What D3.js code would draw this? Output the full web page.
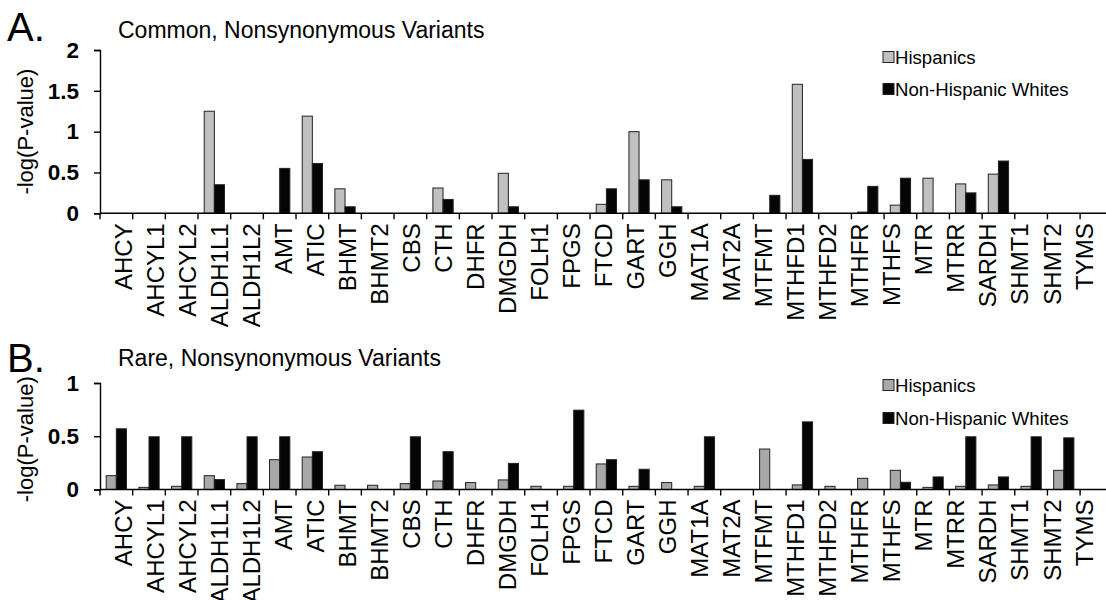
<!DOCTYPE html>
<html>
<head>
<meta charset="utf-8">
<script src="https://cdn.jsdelivr.net/npm/d3@7"></script>
<style>
  html, body { margin: 0; padding: 0; background: #fff; }
  svg { display: block; font-family: "Liberation Sans", Arial, sans-serif; }
</style>
</head>
<body>
<svg id="chart" width="1106" height="600"></svg>
<script>
const genes = ["AHCY","AHCYL1","AHCYL2","ALDH1L1","ALDH1L2","AMT","ATIC","BHMT","BHMT2","CBS","CTH","DHFR","DMGDH","FOLH1","FPGS","FTCD","GART","GGH","MAT1A","MAT2A","MTFMT","MTHFD1","MTHFD2","MTHFR","MTHFS","MTR","MTRR","SARDH","SHMT1","SHMT2","TYMS"];
const seriesNames = ["Hispanics", "Non-Hispanic Whites"];

// Panel A: common, nonsynonymous variants
const commonHispanic = [0,0,0,1.25,0,0,1.19,0.30,0,0,0.31,0,0.49,0,0,0.11,1.00,0.41,0,0,0,1.58,0,0.015,0.10,0.43,0.36,0.48,0,0,0];
const commonWhite    = [0,0,0,0.35,0,0.55,0.61,0.08,0,0,0.17,0,0.08,0,0,0.30,0.41,0.08,0,0,0.22,0.66,0,0.33,0.43,0,0.25,0.64,0,0,0];
const commonTicks = [0, 0.5, 1, 1.5, 2];

// Panel B: rare, nonsynonymous variants
const rareHispanic = [0.13,0.02,0.03,0.13,0.055,0.28,0.305,0.04,0.04,0.055,0.08,0.065,0.09,0.03,0.03,0.24,0.03,0.065,0.03,0,0.38,0.043,0.03,0.105,0.18,0.02,0.03,0.043,0.03,0.18,0];
const rareWhite    = [0.57,0.495,0.495,0.093,0.495,0.495,0.355,0,0,0.495,0.355,0,0.245,0,0.745,0.28,0.19,0,0.495,0,0,0.635,0,0,0.068,0.118,0.495,0.118,0.495,0.485,0];
const rareTicks = [0, 0.5, 1];

const svg = d3.select("#chart");
svg.append("rect").attr("width", 1106).attr("height", 600).attr("fill", "#fff");

const x = d3.scaleBand().domain(genes).range([100, 100 + 31 * 32.67]).padding(0);
const xSub = d3.scaleBand().domain(seriesNames).range([6.2, x.bandwidth() - 6.2]).padding(0);
// category labels sit on a slightly tighter pitch than the bands in the original
const xLab = d3.scaleBand().domain(genes).range([107, 107 + 31 * 32.03]).padding(0);

function panel(cfg) {
  const g = svg.append("g");
  const y = d3.scaleLinear().domain([0, cfg.ymax]).range([cfg.y0, cfg.y1]);

  // bars
  const data = [];
  genes.forEach((gname, i) => {
    data.push({ gene: gname, s: seriesNames[0], v: cfg.h[i] });
    data.push({ gene: gname, s: seriesNames[1], v: cfg.w[i] });
  });
  g.selectAll("rect.bar").data(data.filter(d => d.v > 0)).join("rect")
    .attr("class", "bar")
    .attr("x", d => x(d.gene) + xSub(d.s))
    .attr("width", xSub.bandwidth())
    .attr("y", d => y(d.v))
    .attr("height", d => y(0) - y(d.v))
    .attr("fill", d => d.s === seriesNames[0] ? cfg.hColor : "#050505")
    .attr("stroke", "#222")
    .attr("stroke-width", 1);

  // y axis
  const yAxis = d3.axisLeft(y).tickValues(cfg.ticks).tickSize(6).tickPadding(15)
    .tickFormat(d => d3.format("")(d));
  const ya = g.append("g").attr("transform", "translate(100,0)").call(yAxis);
  ya.select(".domain").attr("stroke", "#000").attr("stroke-width", 1.4);
  ya.selectAll(".tick line").attr("stroke", "#000").attr("stroke-width", 1.4);
  ya.selectAll(".tick text").attr("font-size", 22.5).attr("font-weight", "bold")
    .attr("fill", "#000").attr("font-family", "Liberation Sans, Arial, sans-serif");

  // x axis
  const xa = g.append("g").attr("transform", `translate(0,${cfg.y0})`);
  xa.append("line").attr("x1", 100).attr("x2", 1106).attr("y1", 0).attr("y2", 0)
    .attr("stroke", "#000").attr("stroke-width", 1.4);
  const bounds = genes.map(gname => x(gname));
  xa.selectAll("line.tk").data(bounds).join("line").attr("class", "tk")
    .attr("x1", d => d).attr("x2", d => d).attr("y1", 0).attr("y2", 6)
    .attr("stroke", "#000").attr("stroke-width", 1.4);
  xa.selectAll("text.cat").data(genes).join("text").attr("class", "cat")
    .attr("transform", d => `translate(${xLab(d) + xLab.bandwidth() / 2},10) rotate(-90)`)
    .attr("text-anchor", "end")
    .attr("dy", "0.36em")
    .attr("font-size", 24)
    .attr("fill", "#000")
    .text(d => d);

  // y title
  g.append("text")
    .attr("transform", `translate(25,${(cfg.y0 + cfg.y1) / 2 + cfg.titleShift}) rotate(-90)`)
    .attr("text-anchor", "middle").attr("dy", "0.36em")
    .attr("font-size", 22).attr("fill", "#000")
    .text("-log(P-value)");

  // panel letter and title
  g.append("text").attr("x", 7).attr("y", cfg.letterY).attr("font-size", 40).attr("fill", "#000").text(cfg.letter);
  g.append("text").attr("x", 118).attr("y", cfg.titleY).attr("font-size", 23).attr("fill", "#000").text(cfg.title);

  // legend
  const leg = g.append("g");
  seriesNames.forEach((s, i) => {
    const cy = cfg.legY[i];
    leg.append("rect").attr("x", 883).attr("y", cy - 5.5).attr("width", 11).attr("height", 11)
      .attr("fill", i === 0 ? cfg.hColor : "#050505").attr("stroke", "#222").attr("stroke-width", 1);
    leg.append("text").attr("x", 895).attr("y", cy).attr("dy", "0.36em")
      .attr("font-size", 18.6).attr("fill", "#000").text(s);
  });
}

panel({ y0: 213.3, y1: 50, ymax: 2, ticks: commonTicks, h: commonHispanic, w: commonWhite,
  hColor: "#c0c0c0", letter: "A.", letterY: 41, title: "Common, Nonsynonymous Variants", titleY: 38,
  legY: [57, 89], titleShift: 0 });
panel({ y0: 489.5, y1: 383, ymax: 1, ticks: rareTicks, h: rareHispanic, w: rareWhite,
  hColor: "#a8a8a8", letter: "B.", letterY: 372, title: "Rare, Nonsynonymous Variants", titleY: 366,
  legY: [385, 418], titleShift: 3 });
</script>
</body>
</html>
